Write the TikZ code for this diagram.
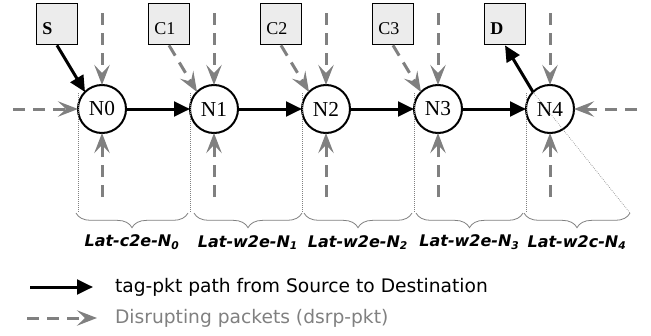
\documentclass[tikz,border=0pt]{standalone}
\usepackage{fontspec}
\setmainfont{Liberation Serif}
\newfontfamily\labelfont{DejaVu Sans}
\usetikzlibrary{positioning,arrows.meta,calc,decorations.pathreplacing}

\newcommand{\boxtext}[1]{\makebox[22pt][l]{#1}}

\begin{document}
\begin{tikzpicture}[
    x=0.75pt, y=0.75pt,
    router/.style={circle, draw=black, line width=1.5pt, minimum size=36pt, inner sep=0pt, outer sep=0pt, font=\fontsize{16}{18}\selectfont},
    endbox/.style={rectangle, draw=black, line width=1pt, fill=gray!15, minimum width=31pt, minimum height=31pt, inner xsep=4.5pt, inner ysep=0pt, text height=15pt, text depth=0pt, font=\fontsize{13.5}{15}\selectfont},
    tagpath/.style={-{Triangle[length=12pt,width=11pt]}, line width=2.25pt},
    dsrp/.style={-{Stealth[length=15pt,width=11.5pt,inset=6pt]}, gray, line width=2.25pt, dash pattern=on 9pt off 6pt},
    guide/.style={gray, densely dotted, line width=0.5pt},
    latbrace/.style={gray, line width=0.6pt, decorate, decoration={brace, mirror, amplitude=11pt}},
    latlabel/.style={text=black, font=\labelfont\bfseries\itshape\fontsize{12}{14}\selectfont},
    legend/.style={font=\labelfont\fontsize{14}{16}\selectfont},
    node distance=48pt
]
    \useasboundingbox (0,0) rectangle (651,-336);

    % routers on the tag-pkt path
    \node[router] (n0) at (102,-109) {N0};
    \node[router, right=of n0] (n1) {N1};
    \node[router, right=of n1] (n2) {N2};
    \node[router, right=of n2] (n3) {N3};
    \node[router, right=of n3] (n4) {N4};

    % source, destination and disrupting cores
    \node[endbox] (src) at ($(n0)+(-45,85)$) {\boxtext{\textbf{S}}};
    \node[endbox] (c1) at ($(n1)+(-45,85)$) {\boxtext{C1}};
    \node[endbox] (c2) at ($(n2)+(-45,85)$) {\boxtext{C2}};
    \node[endbox] (c3) at ($(n3)+(-45,85)$) {\boxtext{C3}};
    \node[endbox] (dst) at ($(n4)+(-45,85)$) {\boxtext{\textbf{D}}};

    % free ends of the dsrp-pkt arrows
    \coordinate (top0) at ($(n0)+(0,96)$);
    \coordinate (top1) at ($(n1)+(0,96)$);
    \coordinate (top2) at ($(n2)+(0,96)$);
    \coordinate (top3) at ($(n3)+(0,96)$);
    \coordinate (top4) at ($(n4)+(0,96)$);
    \coordinate (bot0) at ($(n0)+(0,-88)$);
    \coordinate (bot1) at ($(n1)+(0,-88)$);
    \coordinate (bot2) at ($(n2)+(0,-88)$);
    \coordinate (bot3) at ($(n3)+(0,-88)$);
    \coordinate (bot4) at ($(n4)+(0,-88)$);
    \coordinate (westin) at ($(n0)+(-89,0)$);
    \coordinate (eastin) at ($(n4)+(87,0)$);
    \coordinate (latend) at ($(n4.west)+(104,-104)$);

    % dotted guides
    \draw[guide] ($(n0.west)+(0,16)$) -- ($(n0.west)+(0,-104)$);
    \draw[guide] ($(n1.west)+(0,16)$) -- ($(n1.west)+(0,-104)$);
    \draw[guide] ($(n2.west)+(0,16)$) -- ($(n2.west)+(0,-104)$);
    \draw[guide] ($(n3.west)+(0,16)$) -- ($(n3.west)+(0,-104)$);
    \draw[guide] ($(n4.west)+(0,16)$) -- ($(n4.west)+(0,-104)$);
    \draw[guide] (n4.135) -- (latend);

    % disrupting packets
    \draw[dsrp] (top0) -- (n0);
    \draw[dsrp] (top1) -- (n1);
    \draw[dsrp] (top2) -- (n2);
    \draw[dsrp] (top3) -- (n3);
    \draw[dsrp] (top4) -- (n4);
    \draw[dsrp] (bot0) -- (n0);
    \draw[dsrp] (bot1) -- (n1);
    \draw[dsrp] (bot2) -- (n2);
    \draw[dsrp] (bot3) -- (n3);
    \draw[dsrp] (bot4) -- (n4);
    \draw[dsrp] (westin) -- (n0);
    \draw[dsrp] (eastin) -- (n4);
    \draw[dsrp] (c1.south) -- (n1.135);
    \draw[dsrp] (c2.south) -- (n2.135);
    \draw[dsrp] (c3.south) -- (n3.135);

    % tag-pkt path
    \draw[tagpath] (src.south) -- (n0.135);
    \draw[tagpath] (n0) -- (n1);
    \draw[tagpath] (n1) -- (n2);
    \draw[tagpath] (n2) -- (n3);
    \draw[tagpath] (n3) -- (n4);
    \draw[tagpath] (n4.135) -- (dst.south);

    % latency segments
    \draw[latbrace] ($(n0.west)+(-2,-104)$) -- ($(n1.west)+(-2,-104)$)
        node[latlabel, midway, yshift=-22pt] (lat0) {Lat-c2e-N\textsubscript{0}};
    \draw[latbrace] ($(n1.west)+(4,-104)$) -- ($(n2.west)+(0,-104)$)
        node[latlabel, midway, yshift=-22pt] (lat1) {Lat-w2e-N\textsubscript{1}};
    \draw[latbrace] ($(n2.west)+(2,-104)$) -- ($(n3.west)+(-2,-104)$)
        node[latlabel, midway, yshift=-22pt] (lat2) {Lat-w2e-N\textsubscript{2}};
    \draw[latbrace] ($(n3.west)+(2,-104)$) -- ($(n4.west)+(-3,-104)$)
        node[latlabel, midway, yshift=-22pt] (lat3) {Lat-w2e-N\textsubscript{3}};
    \draw[latbrace] ($(n4.west)+(-2,-104)$) -- (latend)
        node[latlabel, midway, yshift=-22pt] (lat4) {Lat-w2c-N\textsubscript{4}};

    % legend
    \coordinate (keyA) at (30,-287);
    \coordinate (keyB) at (93,-287);
    \coordinate (keyC) at (27,-318);
    \coordinate (keyD) at (97,-318);
    \draw[tagpath] (keyA) -- (keyB);
    \draw[dsrp] (keyC) -- (keyD);
    \node[legend, right=13pt of keyB] (keytag) {tag-pkt path from Source to Destination};
    \node[legend, text=gray, right=10pt of keyD] (keydsrp) {Disrupting packets (dsrp-pkt)};
\end{tikzpicture}
\end{document}
